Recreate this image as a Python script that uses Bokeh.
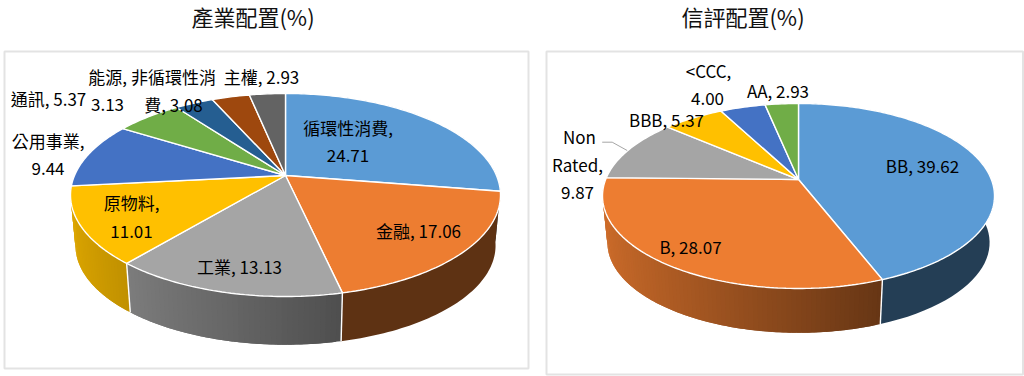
import numpy as np
from bokeh.embed import file_html
from bokeh.layouts import row
from bokeh.models import Range1d
from bokeh.plotting import figure
from bokeh.resources import INLINE
from bokeh.core.properties import value

# ---------- data ----------
sector_title = "產業配置(%)"
sector_names = ["循環性消費", "金融", "工業", "原物料", "公用事業", "通訊", "能源", "非循環性消費", "主權"]
sector_values = [24.71, 17.06, 13.13, 11.01, 9.44, 5.37, 3.13, 3.08, 2.93]
rating_title = "信評配置(%)"
rating_names = ["BB", "B", "Non Rated", "BBB", "<CCC", "AA"]
rating_values = [39.62, 28.07, 9.87, 5.37, 4.00, 2.93]
slice_colors = ["#5B9BD5", "#ED7D31", "#A5A5A5", "#FFC000", "#4472C4", "#70AD47", "#255E91", "#9E480E", "#636363"]

# ---------- label layout (page pixels: centre x, centre y, text) ----------
sector_labels = [
    (347.5, 127, "循環性消費,"), (347.5, 155, "24.71"), (418, 230, "金融, 17.06"),
    (239, 266, "工業, 13.13"), (131, 202, "原物料,"), (131, 231, "11.01"),
    (47.5, 140, "公用事業,"), (47.5, 168, "9.44"), (48, 98, "通訊, 5.37"),
    (107, 76, "能源,"), (107, 103.5, "3.13"), (173, 75.5, "非循環性消"),
    (173, 103.5, "費, 3.08"), (261, 76, "主權, 2.93"),
]
rating_labels = [
    (922, 165, "BB, 39.62"), (690, 246, "B, 28.07"), (579, 136, "Non"),
    (577, 164, "Rated,"), (577, 192, "9.87"), (666, 119, "BBB, 5.37"),
    (708, 70, "<CCC,"), (707, 98, "4.00"), (777.5, 90, "AA, 2.93"),
]
FONT = "Noto Sans CJK TC"


def shade_hex(color, s):
    return "#%02x%02x%02x" % tuple(int(int(color[j:j + 2], 16) * s) for j in (1, 3, 5))


def draw_pie(p, values, labels, cx, cy, top, bottom, rx, depth, scale2):
    """Perspective 3-D pie: clockwise from 12 o'clock, cy is the projected centre."""
    up, down = cy - top, bottom - cy
    b = -(down - up) / (down + up)
    A = up * (1 - b)
    B = rx * np.sqrt(1 - b * b)

    def rim(t, drop=0.0, k=1.0):
        u, v = np.sin(t), -np.cos(t)
        d = 1 + b * v
        return cx + k * B * u / d, cy + drop + k * A * v / d

    vals = np.asarray(values, float)
    edges = np.concatenate([[0], np.cumsum(vals)]) / vals.sum() * 2 * np.pi

    # side wall: dark flat wedges on the right, gradient wedges on the left
    for i in range(len(vals)):
        t0, t1 = edges[i], edges[i + 1]
        mid = (t0 + t1) / 2
        if np.sin(mid) > 0:
            ts = np.linspace(t0, t1, 60)
            x0, y0 = rim(ts)
            x1, y1 = rim(ts[::-1], depth, scale2)
            p.patch(list(x0) + list(x1), list(y0) + list(y1), fill_color=shade_hex(slice_colors[i], 0.40),
                    line_color=None)
        elif np.cos(mid) < 0:
            n = max(2, int(np.degrees(t1 - t0) / 1.2))
            ts = np.linspace(t0, t1, n + 1)
            xs, ys, cs = [], [], []
            for j in range(n):
                seg = np.linspace(ts[j], ts[min(j + 2, n)], 4)
                x0, y0 = rim(seg)
                x1, y1 = rim(seg[::-1], depth, scale2)
                xs.append(list(x0) + list(x1))
                ys.append(list(y0) + list(y1))
                cs.append(shade_hex(slice_colors[i], 0.87 - 0.32 * (np.sin((ts[j] + ts[j + 1]) / 2) + 1)))
            p.patches(xs, ys, fill_color=cs, line_color=None)

    # white seams on the front of the wall
    for e in edges[1:-1]:
        if np.cos(e) < -0.2:
            x0, y0 = rim(e)
            x1, y1 = rim(e, depth, scale2)
            p.line([x0, x1], [y0, y1], line_color="white", line_width=1.4)

    # top face
    xs, ys, cs = [], [], []
    for i in range(len(vals)):
        ts = np.linspace(edges[i], edges[i + 1], max(3, int(np.degrees(edges[i + 1] - edges[i]))))
        x, y = rim(ts)
        xs.append([cx] + list(x))
        ys.append([cy] + list(y))
        cs.append(slice_colors[i])
    p.patches(xs, ys, fill_color=cs, line_color="white", line_width=1.4)

    p.text([l[0] for l in labels], [l[1] for l in labels], text=[l[2] for l in labels],
           text_font=value(FONT), text_font_size="17px", text_color="#000000",
           text_align="center", text_baseline="middle")


def panel(x0, x1, box, title, title_x):
    """A figure whose ranges are page pixels, with a framed chart box and a title above it."""
    p = figure(width=x1 - x0, height=376, output_backend="svg", toolbar_location=None,
               x_range=Range1d(x0, x1), y_range=Range1d(376, 0),
               min_border=0, x_axis_type=None, y_axis_type=None,
               background_fill_color="white", border_fill_color="white", outline_line_color=None)
    p.grid.visible = False
    p.quad(left=box[0], right=box[1], top=box[2], bottom=box[3], fill_color=None,
           line_color="#e3e3e3", line_width=2)
    p.text([title_x], [15], text=[title], text_font=value(FONT), text_font_size="22px",
           text_color="#111111", text_align="center", text_baseline="middle")
    return p


p1 = panel(0, 536, (4, 528, 51, 368), sector_title, 252.5)
draw_pie(p1, sector_values, sector_labels, 285, 175, 93, 296, 215, 51, 0.977)

p2 = panel(536, 1024, (546, 1022.5, 51, 374), rating_title, 742.5)
draw_pie(p2, rating_values, rating_labels, 798, 179, 103, 288, 196, 47, 0.975)
p2.line([601.7, 611.7, 626.7], [141.7, 141.7, 150], line_color="#a6a6a6", line_width=1)

page = row(p1, p2, spacing=0, margin=(0, 0, 0, 0))
open("out.html", "w").write(file_html(page, INLINE))
